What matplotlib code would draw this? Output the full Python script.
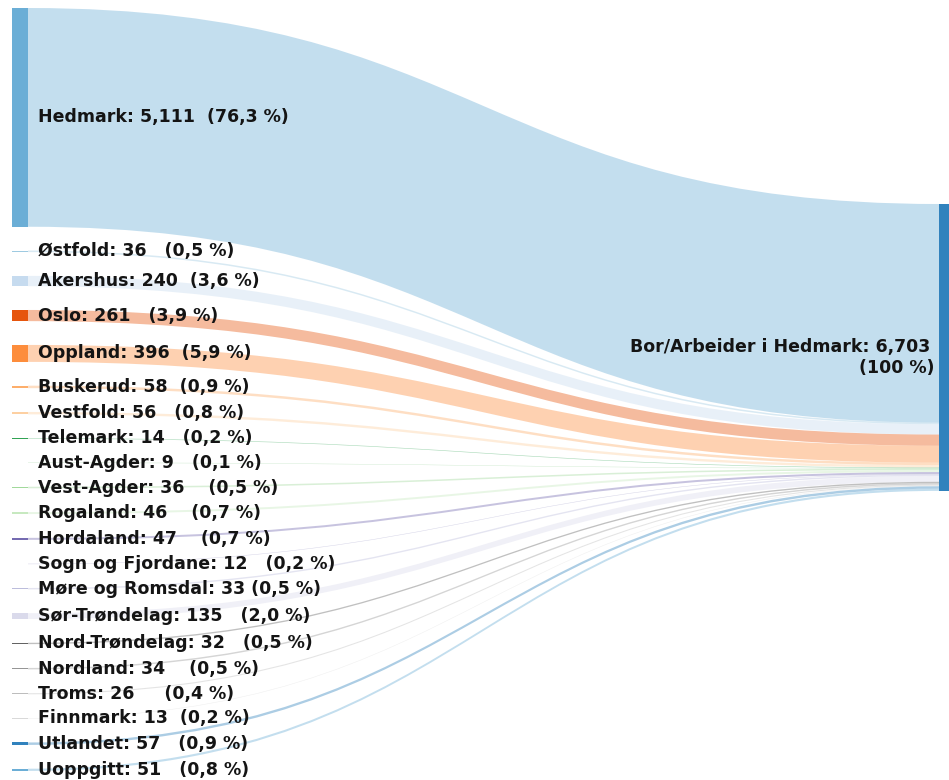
import matplotlib
matplotlib.use("Agg")
import matplotlib.pyplot as plt
from matplotlib.path import Path
from matplotlib.patches import PathPatch, Rectangle

# ---- data ----
sources = ["Hedmark", "Østfold", "Akershus", "Oslo", "Oppland", "Buskerud", "Vestfold",
           "Telemark", "Aust-Agder", "Vest-Agder", "Rogaland", "Hordaland",
           "Sogn og Fjordane", "Møre og Romsdal", "Sør-Trøndelag", "Nord-Trøndelag",
           "Nordland", "Troms", "Finnmark", "Utlandet", "Uoppgitt"]
values = [5111, 36, 240, 261, 396, 58, 56, 14, 9, 36, 46, 47, 12, 33, 135, 32, 34, 26, 13, 57, 51]
pct_labels = ["76,3", "0,5", "3,6", "3,9", "5,9", "0,9", "0,8", "0,2", "0,1", "0,5", "0,7",
              "0,7", "0,2", "0,5", "2,0", "0,5", "0,5", "0,4", "0,2", "0,9", "0,8"]
pct_gap = [2, 3, 2, 3, 2, 2, 3, 3, 3, 4, 4, 4, 3, 1, 3, 3, 4, 5, 2, 3, 3]
target = "Bor/Arbeider i Hedmark"
target_value = 6703
target_pct = "100"

palette = ["#3182bd", "#6baed6", "#9ecae1", "#c6dbef", "#e6550d", "#fd8d3c", "#fdae6b",
           "#fdd0a2", "#31a354", "#74c476", "#a1d99b", "#c7e9c0", "#756bb1", "#9e9ac8",
           "#bcbddc", "#dadaeb", "#636363", "#969696", "#bdbdbd", "#d9d9d9"]

# ---- layout ----
W, H = 949, 780
fig = plt.figure(figsize=(W / 100, H / 100), dpi=100)
ax = fig.add_axes([0, 0, 1, 1])
ax.set_xlim(0, W)
ax.set_ylim(H, 0)
ax.axis("off")

k = 0.0428          # px per unit
pad = 23.8
top = 8
lx0, lx1 = 12, 28
rx0, rx1 = 939, 955
rtop = 204

font = dict(family=["DejaVu Sans"], fontweight="bold", color="#141414", fontsize=12.5)

tgt_color = palette[0]
y = top
ry = rtop
xm = (lx1 + rx0) / 2
for i, (name, v) in enumerate(zip(sources, values)):
    c = palette[(i + 1) % len(palette)]
    h = v * k
    # link
    verts = [(lx1, y), (xm, y), (xm, ry), (rx0, ry),
             (rx0, ry + h), (xm, ry + h), (xm, y + h), (lx1, y + h), (lx1, y)]
    codes = [Path.MOVETO, Path.CURVE4, Path.CURVE4, Path.CURVE4,
             Path.LINETO, Path.CURVE4, Path.CURVE4, Path.CURVE4, Path.CLOSEPOLY]
    ax.add_patch(PathPatch(Path(verts, codes), facecolor=c, edgecolor="none", alpha=0.4, zorder=1))
    # node
    ax.add_patch(Rectangle((lx0, y), lx1 - lx0, max(h, 0.8), facecolor=c, edgecolor="none", zorder=2))
    label = f"{name}: {v:,}" + " " * pct_gap[i] + f"({pct_labels[i]} %)"
    ax.text(38, y + h / 2, label, ha="left", va="center", zorder=3, **font)
    y += h + pad
    ry += h

rh = target_value * k
ax.add_patch(Rectangle((rx0, rtop), rx1 - rx0, rh, facecolor=tgt_color, edgecolor="none", zorder=2))
ax.text(930, rtop + rh / 2, f"{target}: {target_value:,}", ha="right", va="center", **font)
ax.text(935, rtop + rh / 2 + 21, f"({target_pct} %)", ha="right", va="center", **font)

fig.savefig("out.png", dpi=100)
